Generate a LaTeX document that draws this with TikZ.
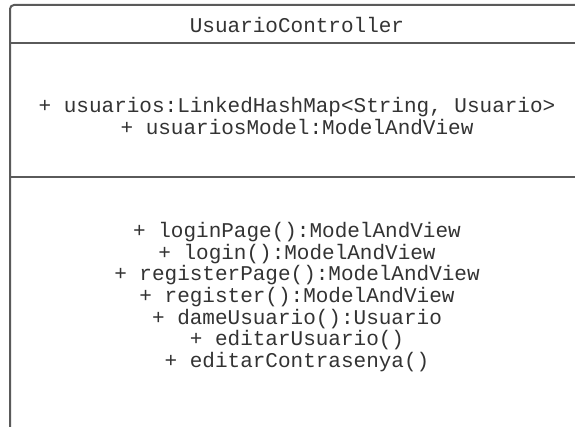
\documentclass[tikz,border=0pt]{standalone}
\usepackage{fontspec}
\setmonofont{Liberation Mono}
\definecolor{linegray}{HTML}{5A5A5A}
\definecolor{textgray}{HTML}{333333}
\tikzset{
  classline/.style={draw=linegray, line width=2pt},
  umltext/.style={inner sep=0pt, align=center, text=textgray,
    font=\ttfamily\fontsize{21}{21.7}\selectfont}
}
\begin{document}
\begin{tikzpicture}[x=1pt,y=-1pt]
\useasboundingbox (0,0) rectangle (575,427);
\clip (0,0) rectangle (575,427);
\fill[white] (0,0) rectangle (575,427);
\draw[classline, rounded corners=4pt] (10,5) rectangle (584,445);
\coordinate (d1l) at (10,43);
\coordinate (d1r) at (584,43);
\coordinate (d2l) at (10,177);
\coordinate (d2r) at (584,177);
\draw[classline] (d1l) -- (d1r);
\draw[classline] (d2l) -- (d2r);
\node[umltext] (title) at (297,25) {UsuarioController};
\node[umltext] (attrs) at (297,116) {+ usuarios:LinkedHashMap<String, Usuario>\\+ usuariosModel:ModelAndView};
\node[umltext] (methods) at (297,297) {+ loginPage():ModelAndView\\+ login():ModelAndView\\+ registerPage():ModelAndView\\+ register():ModelAndView\\+ dameUsuario():Usuario\\+ editarUsuario()\\+ editarContrasenya()};
\end{tikzpicture}
\end{document}
